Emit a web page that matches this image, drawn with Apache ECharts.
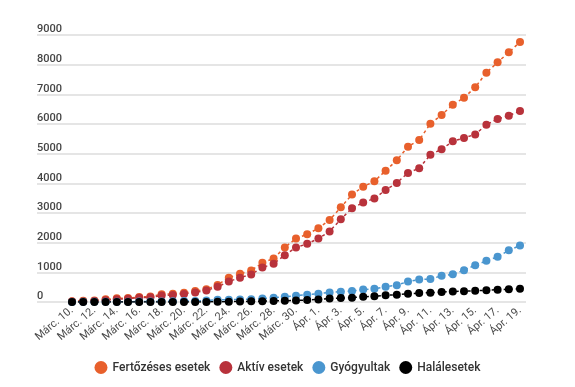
<!DOCTYPE html>
<html>
<head>
<meta charset="utf-8">
<script src="https://cdn.jsdelivr.net/npm/echarts@6/dist/echarts.min.js"></script>
<style>
html,body{margin:0;padding:0;background:#fff;}
#c{width:575px;height:387px;}
</style>
</head>
<body>
<div id="c"></div>
<script>
const categories = [
  'Márc. 10.','Márc. 11.','Márc. 12.','Márc. 13.','Márc. 14.','Márc. 15.','Márc. 16.','Márc. 17.','Márc. 18.','Márc. 19.',
  'Márc. 20.','Márc. 21.','Márc. 22.','Márc. 23.','Márc. 24.','Márc. 25.','Márc. 26.','Márc. 27.','Márc. 28.','Márc. 29.',
  'Márc. 30.','Márc. 31.','Ápr. 1.','Ápr. 2.','Ápr. 3.','Ápr. 4.','Ápr. 5.','Ápr. 6.','Ápr. 7.','Ápr. 8.',
  'Ápr. 9.','Ápr. 10.','Ápr. 11.','Ápr. 12.','Ápr. 13.','Ápr. 14.','Ápr. 15.','Ápr. 16.','Ápr. 17.','Ápr. 18.','Ápr. 19.'
];
const seriesNames = ['Fertőzéses esetek','Aktív esetek','Gyógyultak','Halálesetek'];
const fertozeses = [25,45,49,89,123,131,168,184,260,277,308,367,433,576,820,950,1060,1320,1465,1840,2140,2280,2490,2764,3191,3620,3886,4070,4425,4776,5234,5460,6010,6303,6650,6886,7236,7728,8079,8416,8763];
const aktiv = [15,20,30,60,95,110,145,160,220,240,270,320,390,510,690,820,930,1160,1290,1580,1840,1960,2140,2380,2790,3160,3350,3490,3775,4015,4350,4510,4965,5150,5415,5530,5650,5975,6170,6280,6440];
const gyogyultak = [1,6,6,9,9,9,16,19,19,25,31,31,52,73,79,86,94,115,145,180,213,247,281,320,348,371,420,445,512,567,690,758,775,882,933,1073,1240,1388,1522,1742,1905];
const halalesetek = [0,0,0,0,0,0,0,0,0,0,0,2,4,7,11,17,23,26,37,43,51,69,85,115,133,146,176,197,225,248,280,300,315,335,355,365,380,395,415,430,445];
const yTicks = {min: 0, max: 9000, interval: 1000};
const colors = ['#e8602c','#b8323b','#4a96cf','#000000'];

const chart = echarts.init(document.getElementById('c'));
const mk = (name, data, color) => ({
  name, type: 'line', data, xAxisIndex: 1, yAxisIndex: 1,
  symbol: 'circle', symbolSize: 8, showSymbol: true, showAllSymbol: true,
  itemStyle: {color},
  lineStyle: {color, width: 1.5, type: [3, 3]},
  emphasis: {disabled: true},
  animation: false
});
chart.setOption({
  animation: false,
  textStyle: {fontFamily: 'Roboto'},
  grid: [
    {left: 37, right: 49, top: 35, bottom: 85},
    {left: 72, right: 55, top: 35, bottom: 85}
  ],
  xAxis: [
    {gridIndex: 0, type: 'value', show: false, min: 0, max: 1},
    {gridIndex: 1, type: 'category', data: categories, boundaryGap: false,
     axisLine: {show: false}, axisTick: {show: false},
     axisLabel: {interval: 1, rotate: 40, color: '#4a4a4a', fontSize: 11, margin: 7, fontFamily: 'Roboto'}}
  ],
  yAxis: [
    {gridIndex: 0, type: 'value', min: yTicks.min, max: yTicks.max, interval: yTicks.interval,
     axisLine: {show: false}, axisTick: {show: false},
     splitLine: {lineStyle: {color: '#dcdcdc', width: 1.5}},
     axisLabel: {inside: true, margin: 0, align: 'left', verticalAlign: 'bottom', padding: [0, 0, 0, 0],
                 formatter: v => String(v),
                 color: '#444', fontSize: 11, fontWeight: 500, fontFamily: 'Roboto'}},
    {gridIndex: 1, type: 'value', min: yTicks.min, max: yTicks.max, interval: yTicks.interval, show: false}
  ],
  legend: {
    data: seriesNames, bottom: 8, left: 'center',
    icon: 'circle', itemWidth: 13, itemHeight: 13, itemGap: 9,
    textStyle: {color: '#333', fontSize: 12, fontWeight: 500, fontFamily: 'Roboto'}
  },
  series: [
    mk(seriesNames[0], fertozeses, colors[0]),
    mk(seriesNames[1], aktiv, colors[1]),
    mk(seriesNames[2], gyogyultak, colors[2]),
    mk(seriesNames[3], halalesetek, colors[3])
  ]
});
</script>
</body>
</html>
